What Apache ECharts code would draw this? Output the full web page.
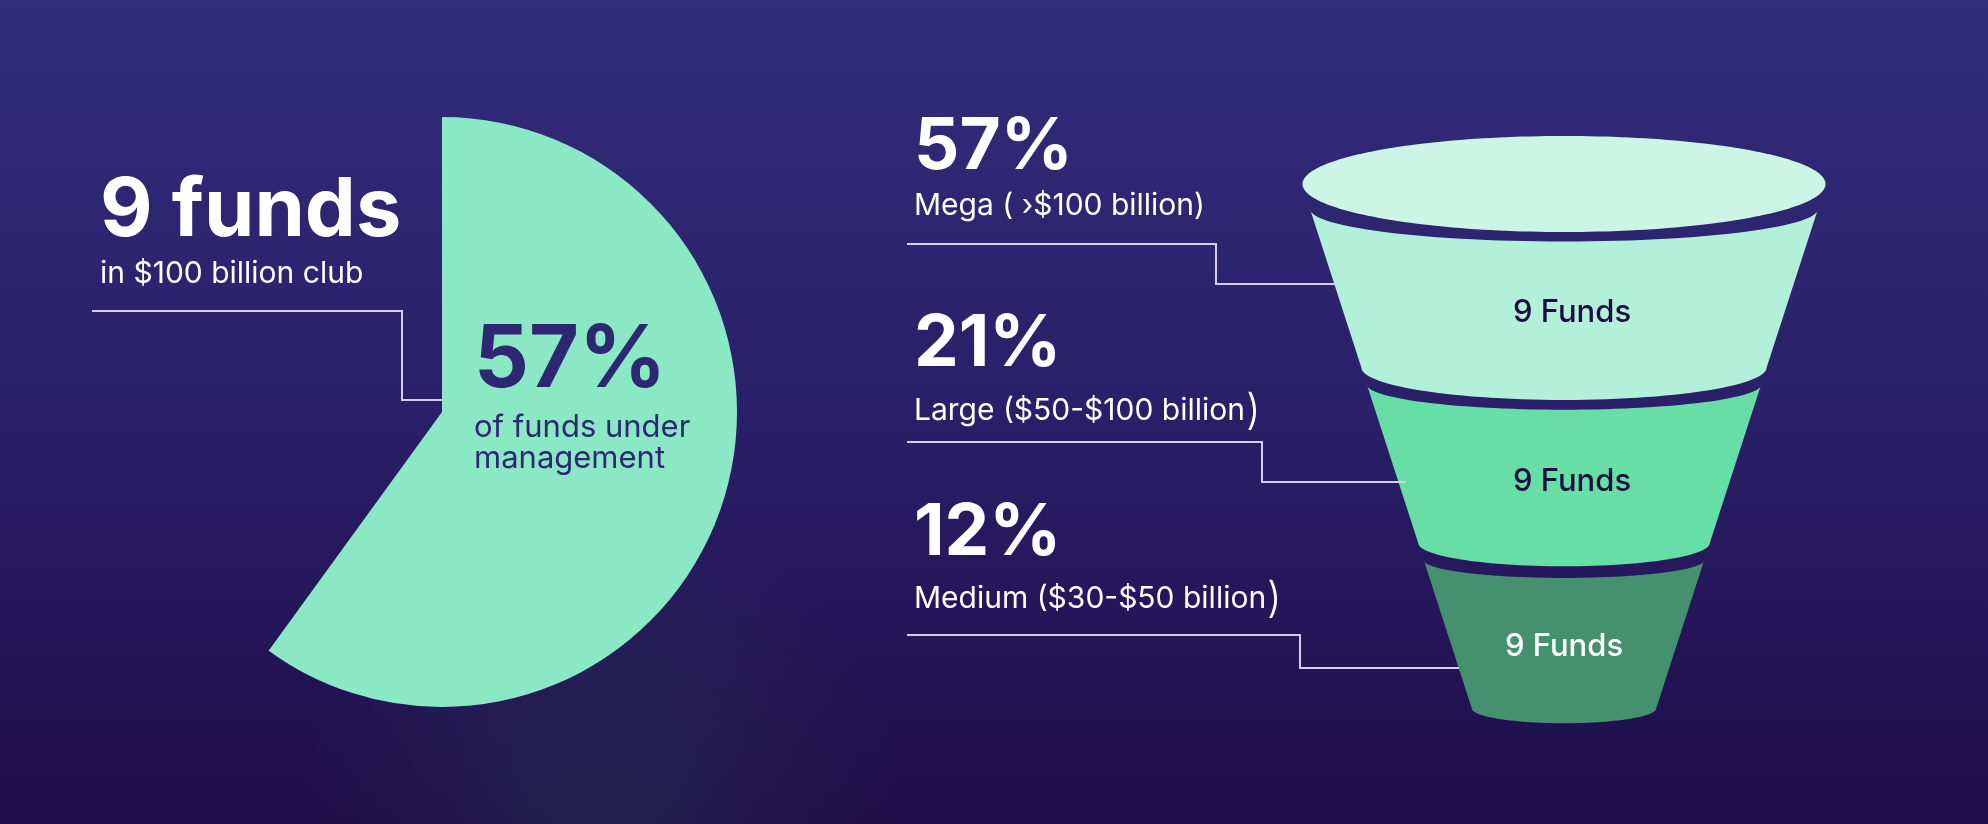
<!DOCTYPE html>
<html>
<head>
<meta charset="utf-8">
<title>Funds under management</title>
<script src="https://cdn.jsdelivr.net/npm/echarts@6/dist/echarts.min.js"></script>
<style>
  html, body { margin: 0; padding: 0; background: #261a5e; }
  #chart { width: 1988px; height: 824px; }
</style>
</head>
<body>
<div id="chart"></div>
<script>
// pie: share of funds (slice as drawn) and the rest, which is not shown
const pieSlice = [60, 40];
const pieLabel = '57%';
const pieCaption = ['of funds under', 'management'];
const headline = '9 funds';
const headlineSub = 'in $100 billion club';

// funnel tiers
const tierNames = ['Mega', 'Large', 'Medium'];
const tierRanges = ['Mega ( \u203a$100 billion)', 'Large ($50-$100 billion', 'Medium ($30-$50 billion'];
const tierShares = [57, 21, 12];
const tierFunds = [9, 9, 9];

const FONT = 'Inter, "Noto Sans", sans-serif';
const white = '#ffffff';
const ink = '#2e2872';
const lineColor = '#d6cdf2';
const segColors = ['#b3f0da', '#68dea7', '#45906f'];
const segText = ['#1a0f3f', '#1a0f3f', '#ffffff'];
const segShift = [8, 8, 0];
const rimColor = '#ccf5e6';

// text placed by its baseline (Inter em box: middle sits ~0.3em above baseline)
function txt(str, x, baseline, size, weight, color, rich) {
    const el = {
        type: 'text', z: 100, silent: true,
        x: x, y: baseline - 0.3 * size,
        style: {
            text: str, font: weight + ' ' + size + 'px ' + FONT,
            fill: color, textAlign: 'left', textVerticalAlign: 'middle'
        }
    };
    if (rich) el.style.rich = rich;
    return el;
}
function leader(points) {
    return {
        type: 'polyline', z: 100, silent: true,
        shape: { points: points },
        style: { stroke: lineColor, lineWidth: 2, fill: null }
    };
}

// ellipse arc points, theta from a to b
function arcPts(cx, cy, rx, ry, a, b, n) {
    const pts = [];
    for (let k = 0; k <= n; k++) {
        const t = a + (b - a) * k / n;
        pts.push([cx + rx * Math.cos(t), cy + ry * Math.sin(t)]);
    }
    return pts;
}

const shareBase = [169, 366, 555];
const rangeBase = [215, 420, 608];

const elements = [
    // soft haze under the pie
    {
        type: 'rect', z: 0, silent: true,
        shape: { x: 260, y: 560, width: 760, height: 264 },
        style: {
            fill: {
                type: 'radial', x: 0.45, y: 0.95, r: 1.15,
                colorStops: [
                    { offset: 0, color: 'rgba(60,110,90,0.20)' },
                    { offset: 1, color: 'rgba(60,110,90,0)' }
                ]
            }
        }
    },
    txt(headline, 100, 236, 81, 'bold', white),
    txt(headlineSub, 100, 283, 30, 'normal', white),
    txt(pieLabel, 474, 387, 86, 'bold', ink),
    txt(pieCaption[0], 474, 437, 31, 'normal', ink),
    txt(pieCaption[1], 474, 468, 31, 'normal', ink),
    leader([[92, 311], [402, 311], [402, 400], [442, 400]]),
    leader([[907, 244], [1216, 244], [1216, 284], [1336, 284]]),
    leader([[907, 442], [1262, 442], [1262, 482], [1406, 482]]),
    leader([[907, 635], [1300, 635], [1300, 668], [1459, 668]])
];
const tallParen = { p: { font: '300 42px ' + FONT, fill: white, verticalAlign: 'bottom', padding: [0, 0, 0, 1] } };
tierShares.forEach(function (s, i) {
    elements.push(txt(s + '%', 914, shareBase[i], 71, 'bold', white));
    if (i === 0) {
        elements.push(txt(tierRanges[i], 914, rangeBase[i], 30, 'normal', white));
    } else {
        elements.push(txt(tierRanges[i] + '{p|)}', 914, rangeBase[i], 30, 'normal', white, tallParen));
    }
});

// funnel cone: width at grid top and taper (px per px down)
const coneTop = 508, coneTaper = 0.648, segGap = 17;
const rimRx = 261.5, rimRy = 48, rimLift = 25;

function renderFunnel(params, api) {
    const idx = api.value(1);
    const c = api.coord([0, idx]);
    const bandH = api.size([0, 1])[1];
    const gridTop = params.coordSys.y;
    const top = c[1] - bandH / 2;
    const h = bandH - segGap - (idx === tierFunds.length - 1 ? 10 : 0);
    const bottom = top + h;
    const halfAt = function (y) { return (coneTop - coneTaper * (y - gridTop)) / 2; };
    const cx = c[0];
    const hwT = api.coord([halfAt(top), idx])[0] - cx;
    const hwB = api.coord([halfAt(bottom), idx])[0] - cx;
    const sagT = hwT * 0.128, sagB = hwB * 0.16;
    const pts = arcPts(cx, top, hwT, sagT, Math.PI, 0, 60)
        .concat(arcPts(cx, bottom, hwB, sagB, 0, Math.PI, 60));
    const children = [{
        type: 'polygon', shape: { points: pts },
        style: { fill: segColors[idx] }
    }];
    if (idx === 0) {
        const rx = api.coord([rimRx, idx])[0] - cx;
        children.push({
            type: 'polygon',
            shape: { points: arcPts(cx, gridTop - rimLift, rx, rimRy, 0, Math.PI * 2, 200) },
            style: { fill: rimColor }
        });
    }
    const sagMid = (sagT + sagB) / 2;
    children.push({
        type: 'text',
        x: cx + segShift[idx], y: (top + bottom) / 2 + sagMid * 0.75,
        style: {
            text: api.value(2) + ' Funds', font: '500 31px ' + FONT,
            fill: segText[idx], textAlign: 'center', textVerticalAlign: 'middle'
        }
    });
    return { type: 'group', children: children };
}

const chart = echarts.init(document.getElementById('chart'));
chart.setOption({
    animation: false,
    backgroundColor: {
        type: 'linear', x: 0, y: 0, x2: 0, y2: 1,
        colorStops: [
            { offset: 0, color: '#332d7c' },
            { offset: 0.5, color: '#2a1f68' },
            { offset: 1, color: '#1e0d4a' }
        ]
    },
    grid: { left: 1264, width: 600, top: 209, height: 526.5 },
    xAxis: { type: 'value', min: -300, max: 300, show: false },
    yAxis: { type: 'category', data: tierNames, inverse: true, show: false },
    graphic: { elements: elements },
    series: [
        {
            type: 'pie',
            center: [442, 412],
            radius: 295,
            startAngle: 90,
            clockwise: true,
            silent: true,
            label: { show: false },
            labelLine: { show: false },
            emphasis: { disabled: true },
            data: [
                { value: pieSlice[0], itemStyle: { color: '#8be8c4' } },
                { value: pieSlice[1], itemStyle: { color: 'rgba(0,0,0,0)' } }
            ]
        },
        {
            type: 'custom',
            silent: true,
            renderItem: renderFunnel,
            encode: { x: 0, y: 1 },
            data: tierFunds.map(function (n, i) { return [0, i, n]; })
        }
    ]
});
</script>
</body>
</html>
